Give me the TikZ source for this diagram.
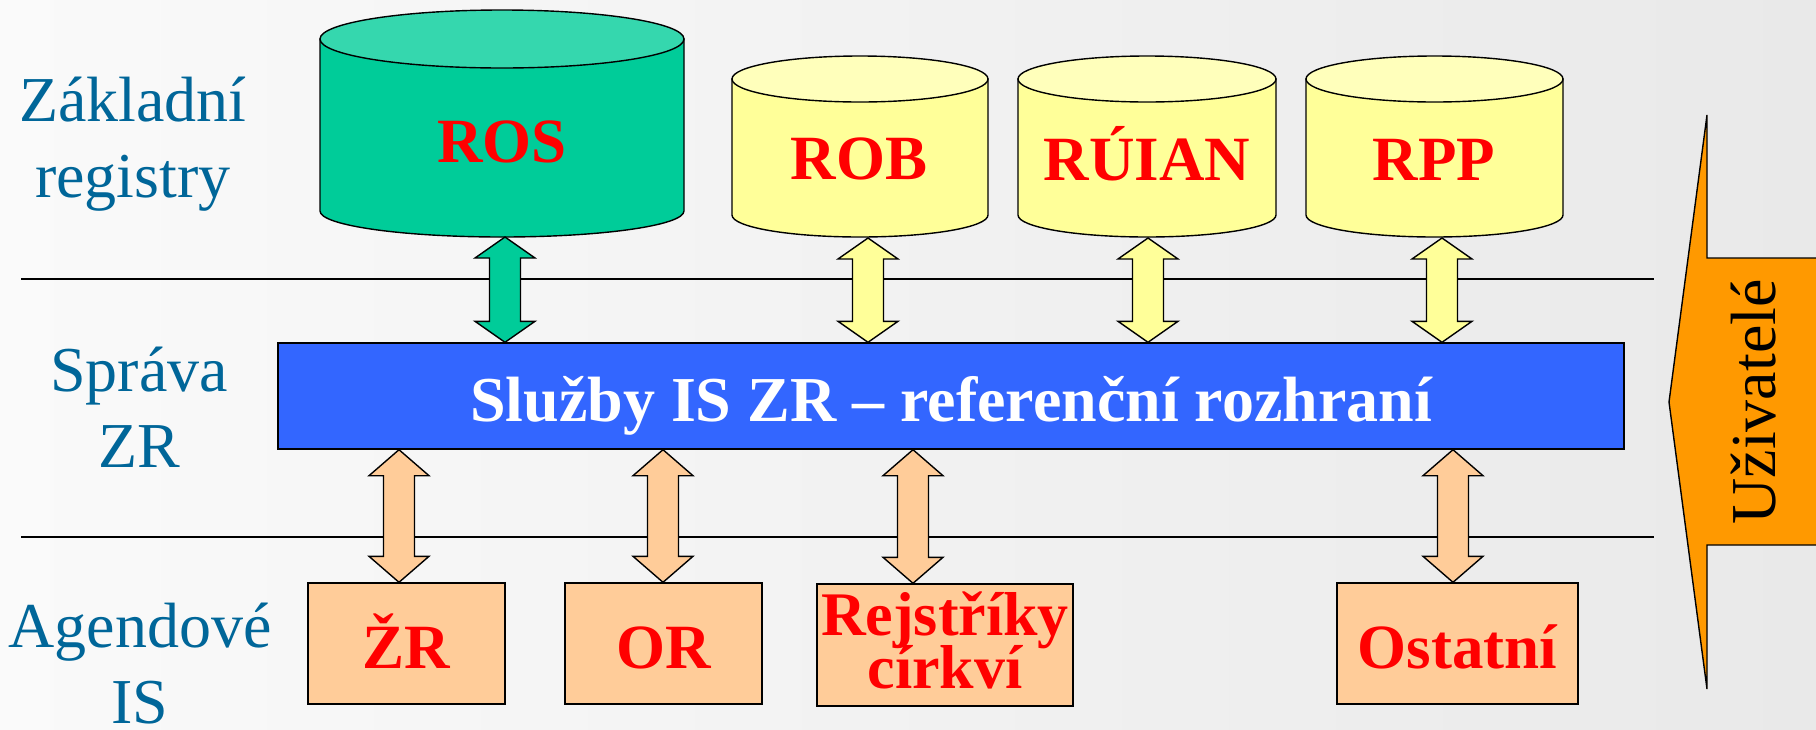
\documentclass[tikz,border=0pt]{standalone}
\usepackage{fontspec}
\setmainfont{Liberation Serif}
\usetikzlibrary{calc}
\definecolor{bgl}{RGB}{250,250,250}
\definecolor{bgr}{RGB}{233,233,233}
\definecolor{grnbody}{RGB}{0,204,153}
\definecolor{grntop}{RGB}{53,215,174}
\definecolor{ylwbody}{RGB}{255,255,153}
\definecolor{ylwtop}{RGB}{255,255,187}
\definecolor{svcblue}{RGB}{51,102,255}
\definecolor{peach}{RGB}{255,204,153}
\definecolor{usrorange}{RGB}{255,153,0}
\definecolor{lblblue}{RGB}{0,102,153}
\definecolor{regred}{RGB}{255,0,0}
\tikzset{
  outl/.style={draw=black, line width=1.4pt, line join=miter},
  regtxt/.style={text=regred, font=\fontsize{63}{63}\selectfont\bfseries, inner sep=0pt},
  lbltxt/.style={text=lblblue, font=\fontsize{64}{76}\selectfont, inner sep=0pt, anchor=base},
  svcbox/.style={outl, fill=svcblue, text=white, font=\fontsize{64}{64}\selectfont\bfseries,
     minimum width=1346pt, minimum height=106pt, inner sep=0pt, text height=60pt, text depth=10pt},
  agbox/.style={outl, fill=peach, text=regred, font=\fontsize{63}{63}\selectfont\bfseries,
     inner sep=0pt, text height=59pt, text depth=10pt},
  sepline/.style={draw=black, line width=1.5pt},
}
% double arrow: fill, top point, bottom point, head length
\newcommand\dblarr[4]{%
  \filldraw[fill=#1, outl] let \p1=(#2), \p2=(#3) in
   (\x1,\y1) -- (\x1+30pt,\y1-#4pt) -- (\x1+15.5pt,\y1-#4pt) -- (\x1+15.5pt,\y2+#4pt)
   -- (\x1+30pt,\y2+#4pt) -- (\x1,\y2) -- (\x1-30pt,\y2+#4pt) -- (\x1-15.5pt,\y2+#4pt)
   -- (\x1-15.5pt,\y1-#4pt) -- (\x1-30pt,\y1-#4pt) -- cycle;}
% cylinder: body, top, cx, rx, topcy, topry, botcy, botry
\newcommand\cyl[8]{%
  \filldraw[fill=#1, outl] (#3-#4,-#5) -- (#3-#4,-#7)
     arc[start angle=180, end angle=360, x radius=#4, y radius=#8] -- (#3+#4,-#5) -- cycle;
  \filldraw[fill=#2, outl] (#3,-#5) ellipse[x radius=#4, y radius=#6];}
\begin{document}
\begin{tikzpicture}[x=1pt, y=1pt]
\useasboundingbox (0,0) rectangle (1816,-729);
\clip (0,0) rectangle (1816,-729);
\shade[left color=bgl, right color=bgr] (0,0) rectangle (1816,-729);

% separator lines
\draw[sepline] (21,-279) -- (1654,-279);
\draw[sepline] (21,-537) -- (1654,-537);

% left labels
\node[lbltxt] (lzr) at (133,-121) {\begin{tabular}[t]{@{}c@{}}Základní\\registry\end{tabular}};
\node[lbltxt] (lsp) at (139,-391) {\begin{tabular}[t]{@{}c@{}}Správa\\ZR\end{tabular}};
\node[lbltxt] (lag) at (140,-647) {\begin{tabular}[t]{@{}c@{}}Agendové\\IS\end{tabular}};

% cylinders
\cyl{grnbody}{grntop}{502}{182}{39}{29}{211}{26}
\cyl{ylwbody}{ylwtop}{860}{128}{79}{23}{215}{22}
\cyl{ylwbody}{ylwtop}{1147}{129}{79}{23}{215}{22}
\cyl{ylwbody}{ylwtop}{1434.5}{128.5}{79}{23}{215}{22}
\node[regtxt, anchor=base] (ros) at (502,-162) {ROS};
\node[regtxt, anchor=base] (rob) at (859,-179) {ROB};
\node[regtxt, anchor=base] (ruian) at (1147,-180) {RÚIAN};
\node[regtxt, anchor=base] (rpp) at (1434,-180) {RPP};
\coordinate (ros-b) at (505,-237);
\coordinate (rob-b) at (868,-238);
\coordinate (ruian-b) at (1148,-238);
\coordinate (rpp-b) at (1442,-238);

% service bar
\node[svcbox] (svc) at (951,-396) {Služby IS ZR – referenční rozhraní};

% agenda boxes
\node[agbox, minimum width=197pt, minimum height=121pt] (zr) at (406.5,-643.5) {ŽR};
\node[agbox, minimum width=197pt, minimum height=121pt] (or) at (663.5,-643.5) {OR};
\node[agbox, minimum width=256pt, minimum height=122pt, font=\fontsize{62}{53}\selectfont\bfseries,
      text height=10pt, text depth=30pt] (rej) at (945,-645)
      {\begin{tabular}[t]{@{}c@{}}Rejstříky\\\smash{církví}\end{tabular}};
\node[agbox, minimum width=241pt, minimum height=121pt] (ost) at (1457.5,-643.5) {Ostatní};
\coordinate (a-zr) at (399,0);
\coordinate (a-or) at (663,0);
\coordinate (a-rej) at (913,0);
\coordinate (a-ost) at (1453,0);

% upper arrows
\dblarr{grnbody}{ros-b}{svc.north -| ros-b}{21}
\dblarr{ylwbody}{rob-b}{svc.north -| rob-b}{21}
\dblarr{ylwbody}{ruian-b}{svc.north -| ruian-b}{21}
\dblarr{ylwbody}{rpp-b}{svc.north -| rpp-b}{21}

% lower arrows
\dblarr{peach}{svc.south -| a-zr}{zr.north -| a-zr}{26}
\dblarr{peach}{svc.south -| a-or}{or.north -| a-or}{26}
\dblarr{peach}{svc.south -| a-rej}{rej.north -| a-rej}{26}
\dblarr{peach}{svc.south -| a-ost}{ost.north -| a-ost}{26}

% users arrow
\filldraw[fill=usrorange, outl] (1669,-402) -- (1707,-115) -- (1707,-258) -- (1830,-258)
   -- (1830,-545) -- (1707,-545) -- (1707,-689) -- cycle;
\node[rotate=90, anchor=base, inner sep=0pt, font=\fontsize{64}{64}\selectfont] (users) at (1775,-402) {Uživatelé};
\end{tikzpicture}
\end{document}
